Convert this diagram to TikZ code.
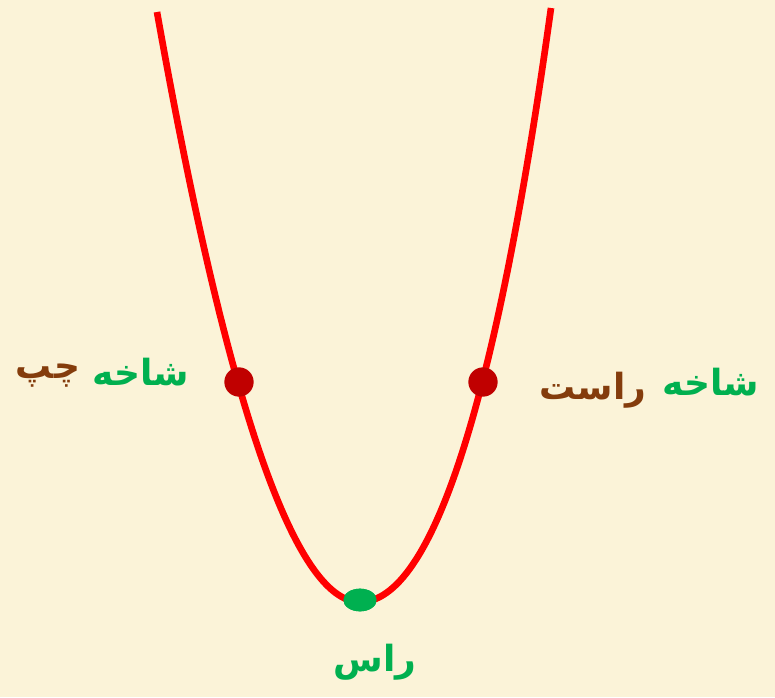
\documentclass[tikz,border=0pt]{standalone}
\usepackage{fontspec}
\newfontfamily\arabicfont[Script=Arabic]{DejaVu Sans}
\TeXXeTstate=1
\usetikzlibrary{shapes.geometric}
\definecolor{bg}{RGB}{251,243,216}
\definecolor{curvered}{RGB}{255,0,0}
\definecolor{dotred}{RGB}{192,0,0}
\definecolor{grn}{RGB}{0,176,80}
\definecolor{brn}{RGB}{132,60,12}
\tikzset{
  lbl/.style={font=\arabicfont\bfseries\fontsize{27}{32}\selectfont, inner sep=0pt},
  reddot/.style={circle, fill=dotred, minimum size=22pt, inner sep=0pt},
  vtx/.style={ellipse, fill=grn, minimum width=25pt, minimum height=17pt, inner sep=0pt},
}
\begin{document}
\begin{tikzpicture}[x=0.75pt,y=-0.75pt]
\fill[bg] (0,0) rectangle (775,697);
\useasboundingbox (0,0) rectangle (775,697);
\coordinate (topL) at (157,12);
\coordinate (topR) at (551,8);
\node[vtx] (V) at (360,600) {};
\draw[curvered, line width=5pt, line join=round] (topL) .. controls (227,405) and (295,602) .. (360,602) .. controls (432,602) and (496,404) .. (topR);
\node[vtx] at (V) {};
\node[reddot] (L) at (239,382) {};
\node[reddot] (R) at (483,382) {};
\node[lbl, text=grn] (tl1) at (141,372) {\beginR شاخه\endR};
\node[lbl, text=brn] (tl2) at (48,376) {\beginR چپ\endR};
\node[lbl, text=grn] (tr1) at (711,382) {\beginR شاخه\endR};
\node[lbl, text=brn] (tr2) at (593,390) {\beginR راست\endR};
\node[lbl, text=grn] (tv) at (375,662) {\beginR راس\endR};
\end{tikzpicture}
\end{document}
